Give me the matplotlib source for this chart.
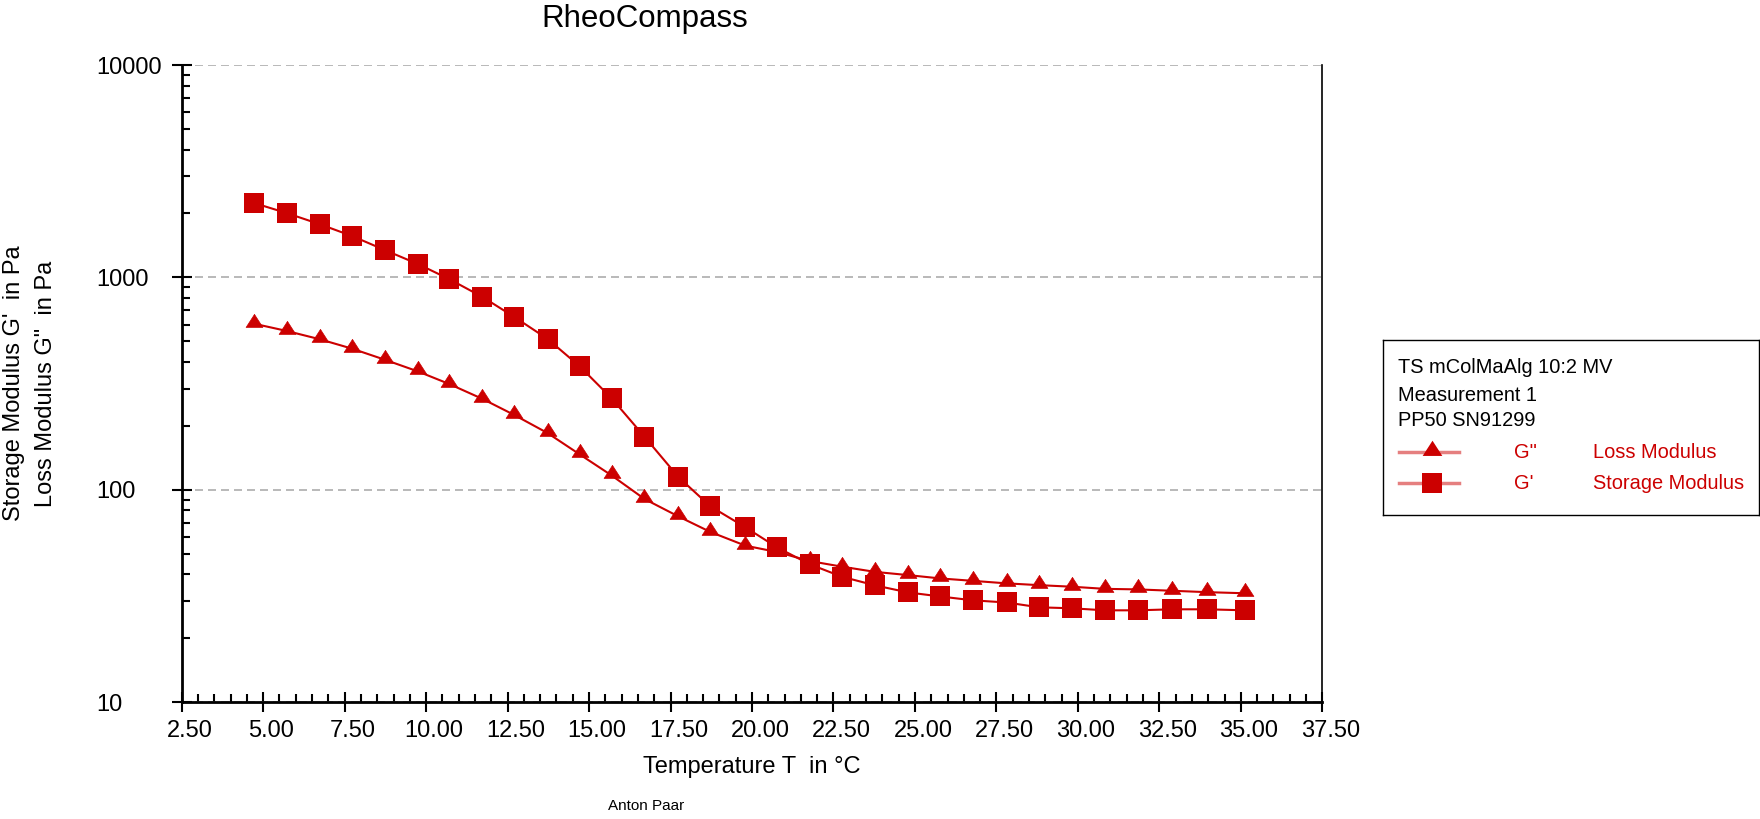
'''
    curva de temperatura RheoCompass: G' y G'' frente a T
'''

import matplotlib
matplotlib.use('Agg')
import matplotlib.pyplot as plt
from matplotlib.ticker import LogLocator, MultipleLocator, NullFormatter, FixedLocator, FixedFormatter
from matplotlib.transforms import ScaledTranslation

plt.rcParams['font.family'] = ['Liberation Sans', 'DejaVu Sans']

# Datos
temperatura = [4.73, 5.72, 6.73, 7.73, 8.73, 9.75, 10.71, 11.73, 12.71, 13.73,
               14.71, 15.69, 16.70, 17.74, 18.72, 19.80, 20.77, 21.78, 22.76, 23.78,
               24.79, 25.77, 26.78, 27.81, 28.81, 29.82, 30.83, 31.84, 32.89, 33.96,
               35.14]
g_storage = [2238, 2009, 1782, 1566, 1346, 1156, 982, 809, 651, 513,
             382, 270, 178, 115, 83.7, 66.6, 53.6, 44.6, 39.0, 35.5,
             32.9, 31.5, 30.2, 29.5, 28.0, 27.7, 27.1, 27.1, 27.4, 27.4,
             27.1]
g_loss = [605, 560, 512, 462, 410, 361, 315, 268, 225, 185,
          147, 117, 90.6, 75.0, 63.4, 54.6, 51.0, 46.2, 43.5, 41.1,
          39.7, 38.3, 37.3, 36.3, 35.6, 35.0, 34.2, 34.0, 33.5, 33.0,
          32.6]

y_ticks = [10, 100, 1000, 10000]
y_tick_labels = ['10', '100', '1000', '10000']

rojo = '#CC0000'
# triángulo con el punto de datos cerca de la base, como en RheoCompass
tri = [(0, 1.2), (-1, -0.35), (1, -0.35), (0, 1.2)]

fig = plt.figure(figsize=(17.6, 8.19), dpi=100)
ax = fig.add_axes([181.7 / 1760, 1 - 702.3 / 819, 1140.6 / 1760, 637.3 / 819])

ax.plot(temperatura, g_loss, color=rojo, lw=1.5, marker=tri, ms=14.5,
        mec=rojo, mew=0.5, zorder=3)
ax.plot(temperatura, g_storage, color=rojo, lw=1.5, marker='s', ms=14.5,
        mew=0, zorder=4)

ax.set_yscale('log')
ax.set_ylim(10, 10000)
ax.set_xlim(2.5, 37.5)

ax.yaxis.set_major_locator(FixedLocator(y_ticks))
ax.yaxis.set_major_formatter(FixedFormatter(y_tick_labels))
ax.yaxis.set_minor_locator(LogLocator(base=10, subs=range(2, 10)))
ax.yaxis.set_minor_formatter(NullFormatter())
ax.xaxis.set_major_locator(MultipleLocator(2.5))
ax.xaxis.set_minor_locator(MultipleLocator(0.5))
ax.xaxis.set_major_formatter(lambda v, p: f'{v:.2f}')

ax.tick_params(which='major', direction='inout', length=14.4, width=1.5,
               labelsize=17, color='black')
ax.tick_params(which='minor', direction='in', length=6, width=1.5, color='black')
# etiquetas del eje y alineadas a la izquierda, como en el original
ax.tick_params(axis='y', which='major', pad=54)
ax.tick_params(axis='x', which='major', pad=5.6)

for lbl in ax.get_yticklabels():
    lbl.set_horizontalalignment('left')
# las etiquetas del eje x van algo desplazadas a la derecha
desplazamiento = ScaledTranslation(8 / 100, 0, fig.dpi_scale_trans)
for lbl in ax.get_xticklabels():
    lbl.set_transform(lbl.get_transform() + desplazamiento)

ax.yaxis.grid(True, which='major', ls=(0, (4.8, 3)), color='#ADADAD', lw=1.2)
ax.set_axisbelow(True)

ax.spines['top'].set_visible(False)
ax.spines['right'].set_linewidth(1.2)
ax.spines['left'].set_linewidth(2)
ax.spines['bottom'].set_linewidth(2)

# textos
fig.text(645 / 1760, 1 - 19.5 / 819, 'RheoCompass', ha='center', va='center', fontsize=22.5)
fig.text(752 / 1760, 1 - 767 / 819, 'Temperature T  in °C', ha='center', va='center', fontsize=17)
fig.text(14 / 1760, 1 - 383 / 819, "Storage Modulus G'  in Pa", rotation=90,
         ha='center', va='center', fontsize=17)
fig.text(45.5 / 1760, 1 - 384 / 819, 'Loss Modulus G"  in Pa', rotation=90,
         ha='center', va='center', fontsize=17)
fig.text(646 / 1760, 1 - 806 / 819, 'Anton Paar', ha='center', va='center', fontsize=11)

# leyenda propia (coordenadas en píxeles de la figura)
lax = fig.add_axes([1383 / 1760, 1 - 515 / 819, 376 / 1760, 175 / 819])
lax.set_xlim(1383, 1759)
lax.set_ylim(515, 340)
lax.set_xticks([])
lax.set_yticks([])
for s in lax.spines.values():
    s.set_linewidth(1)
    s.set_color('black')

for texto, y in [('TS mColMaAlg 10:2 MV', 367.7), ('Measurement 1', 395.7), ('PP50 SN91299', 421)]:
    lax.text(1398, y, texto, va='center', fontsize=14.4)

for marcador, ms, y, sim, nombre in [(tri, 17, 452.3, 'G"', 'Loss Modulus'),
                                     ('s', 14, 483.3, "G'", 'Storage Modulus')]:
    lax.plot([1399, 1459], [y, y], color=rojo, alpha=0.5, lw=2.5)
    lax.plot([1431.7], [y], color=rojo, marker=marcador, ms=ms, mew=0, ls='none')
    lax.text(1514, y, sim, va='center', fontsize=14.4, color=rojo)
    lax.text(1593, y, nombre, va='center', fontsize=14.4, color=rojo)

fig.savefig('out.png', dpi=100)
